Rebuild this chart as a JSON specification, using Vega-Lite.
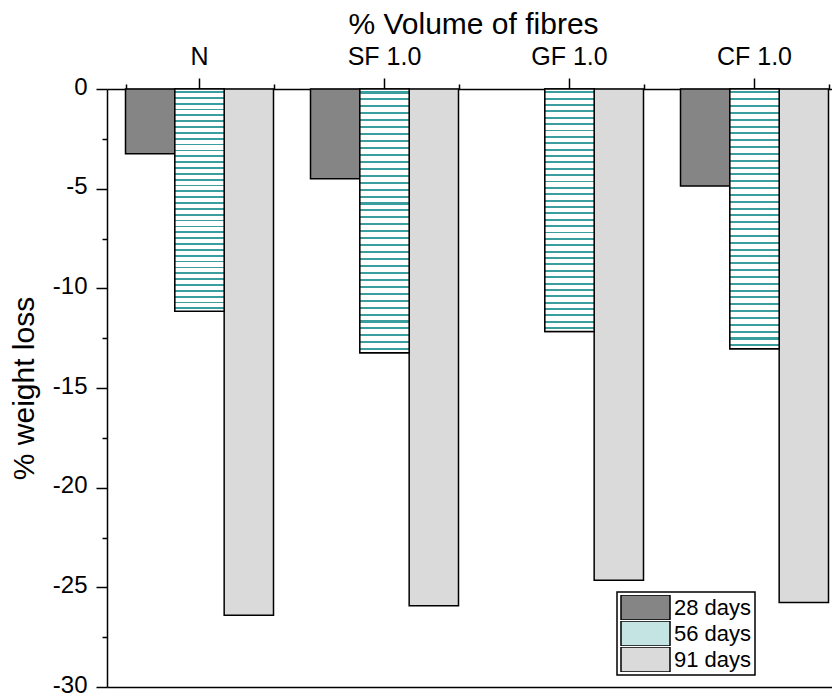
{
  "$schema": "https://vega.github.io/schema/vega-lite/v6.json",
  "width": 725,
  "height": 598,
  "autosize": {"type": "none"},
  "padding": {"left": 107, "top": 89, "right": 0, "bottom": 10},
  "background": "white",
  "config": {
    "view": {"stroke": null},
    "font": "Liberation Sans",
    "axis": {"domainColor": "black", "tickColor": "black", "labelColor": "black", "titleColor": "black", "domainWidth": 1.5, "tickWidth": 1.5, "grid": false, "labelFlush": false},
    "legend": {"strokeWidth": 1.5}
  },
  "data": {
    "values": [
      {"mix": "N", "age": "28 days", "loss": -3.25},
      {"mix": "N", "age": "56 days", "loss": -11.15},
      {"mix": "N", "age": "91 days", "loss": -26.4},
      {"mix": "SF 1.0", "age": "28 days", "loss": -4.5},
      {"mix": "SF 1.0", "age": "56 days", "loss": -13.23},
      {"mix": "SF 1.0", "age": "91 days", "loss": -25.93},
      {"mix": "GF 1.0", "age": "56 days", "loss": -12.16},
      {"mix": "GF 1.0", "age": "91 days", "loss": -24.64},
      {"mix": "CF 1.0", "age": "28 days", "loss": -4.87},
      {"mix": "CF 1.0", "age": "56 days", "loss": -13.03},
      {"mix": "CF 1.0", "age": "91 days", "loss": -25.76}
    ]
  },
  "layer": [
    {
      "mark": {"type": "bar", "stroke": "black", "strokeWidth": 1.5},
      "encoding": {
        "x": {
          "field": "mix", "type": "nominal", "sort": ["N", "SF 1.0", "GF 1.0", "CF 1.0"],
          "scale": {"range": [0, 740], "paddingInner": 0.2, "paddingOuter": 0.1},
          "axis": {
            "orient": "top", "title": "% Volume of fibres", "titleFontSize": 30, "titleFontWeight": "normal",
            "titleX": 366, "titleY": -56, "titleBaseline": "alphabetic", "titleAlign": "center",
            "labelAngle": 0, "labelFontSize": 25, "labelBaseline": "alphabetic", "labelPadding": 14,
            "tickSize": 11, "tickBand": "center"
          }
        },
        "xOffset": {"field": "age", "type": "nominal", "scale": {"domain": ["28 days", "56 days", "91 days"], "paddingInner": 0, "paddingOuter": 0}},
        "y": {
          "field": "loss", "type": "quantitative",
          "scale": {"domain": [-30, 0], "nice": false, "zero": false},
          "axis": {
            "title": "% weight loss", "titleFontSize": 30, "titleFontWeight": "normal", "titleAngle": -90,
            "titleX": -74, "titleY": 299, "titleBaseline": "alphabetic", "titleAlign": "center",
            "values": [-30, -25, -20, -15, -10, -5, 0], "labelExpr": "'' + datum.value",
            "labelFontSize": 24, "labelPadding": 9, "labelOffset": -2, "tickSize": 11
          }
        },
        "fill": {
          "field": "age", "type": "nominal",
          "scale": {"domain": ["28 days", "56 days", "91 days"], "range": ["#858585", "#c4e3e3", "#dadada"]},
          "legend": {
            "orient": "none", "legendX": 510, "legendY": 503, "title": null,
            "symbolType": "M-1,-1H2.92V1H-1Z", "symbolSize": 625, "symbolStrokeColor": "black", "symbolStrokeWidth": 1.5,
            "symbolOpacity": 1, "labelFontSize": 22, "labelColor": "black", "labelOffset": 27, "rowPadding": 1,
            "clipHeight": 25, "padding": 3, "strokeColor": "black", "fillColor": "white"
          }
        }
      }
    },
    {
      "transform": [{"filter": "datum.age === '56 days'"}],
      "mark": {
        "type": "bar", "stroke": "black", "strokeWidth": 1.5,
        "fill": {
          "gradient": "linear", "x1": 0, "y1": 0, "x2": 0, "y2": 1,
          "stops": [
            {"offset": 0, "color": "white"},
            {"offset": 0.00921, "color": "white"}, {"offset": 0.00921, "color": "#3a9e9e"}, {"offset": 0.01711, "color": "#3a9e9e"}, {"offset": 0.01711, "color": "white"},
            {"offset": 0.03553, "color": "white"}, {"offset": 0.03553, "color": "#3a9e9e"}, {"offset": 0.04342, "color": "#3a9e9e"}, {"offset": 0.04342, "color": "white"},
            {"offset": 0.06184, "color": "white"}, {"offset": 0.06184, "color": "#3a9e9e"}, {"offset": 0.06974, "color": "#3a9e9e"}, {"offset": 0.06974, "color": "white"},
            {"offset": 0.08816, "color": "white"}, {"offset": 0.08816, "color": "#3a9e9e"}, {"offset": 0.09605, "color": "#3a9e9e"}, {"offset": 0.09605, "color": "white"},
            {"offset": 0.11447, "color": "white"}, {"offset": 0.11447, "color": "#3a9e9e"}, {"offset": 0.12237, "color": "#3a9e9e"}, {"offset": 0.12237, "color": "white"},
            {"offset": 0.14079, "color": "white"}, {"offset": 0.14079, "color": "#3a9e9e"}, {"offset": 0.14868, "color": "#3a9e9e"}, {"offset": 0.14868, "color": "white"},
            {"offset": 0.16711, "color": "white"}, {"offset": 0.16711, "color": "#3a9e9e"}, {"offset": 0.175, "color": "#3a9e9e"}, {"offset": 0.175, "color": "white"},
            {"offset": 0.19342, "color": "white"}, {"offset": 0.19342, "color": "#3a9e9e"}, {"offset": 0.20132, "color": "#3a9e9e"}, {"offset": 0.20132, "color": "white"},
            {"offset": 0.21974, "color": "white"}, {"offset": 0.21974, "color": "#3a9e9e"}, {"offset": 0.22763, "color": "#3a9e9e"}, {"offset": 0.22763, "color": "white"},
            {"offset": 0.24605, "color": "white"}, {"offset": 0.24605, "color": "#3a9e9e"}, {"offset": 0.25395, "color": "#3a9e9e"}, {"offset": 0.25395, "color": "white"},
            {"offset": 0.27237, "color": "white"}, {"offset": 0.27237, "color": "#3a9e9e"}, {"offset": 0.28026, "color": "#3a9e9e"}, {"offset": 0.28026, "color": "white"},
            {"offset": 0.29868, "color": "white"}, {"offset": 0.29868, "color": "#3a9e9e"}, {"offset": 0.30658, "color": "#3a9e9e"}, {"offset": 0.30658, "color": "white"},
            {"offset": 0.325, "color": "white"}, {"offset": 0.325, "color": "#3a9e9e"}, {"offset": 0.33289, "color": "#3a9e9e"}, {"offset": 0.33289, "color": "white"},
            {"offset": 0.35132, "color": "white"}, {"offset": 0.35132, "color": "#3a9e9e"}, {"offset": 0.35921, "color": "#3a9e9e"}, {"offset": 0.35921, "color": "white"},
            {"offset": 0.37763, "color": "white"}, {"offset": 0.37763, "color": "#3a9e9e"}, {"offset": 0.38553, "color": "#3a9e9e"}, {"offset": 0.38553, "color": "white"},
            {"offset": 0.40395, "color": "white"}, {"offset": 0.40395, "color": "#3a9e9e"}, {"offset": 0.41184, "color": "#3a9e9e"}, {"offset": 0.41184, "color": "white"},
            {"offset": 0.43026, "color": "white"}, {"offset": 0.43026, "color": "#3a9e9e"}, {"offset": 0.43816, "color": "#3a9e9e"}, {"offset": 0.43816, "color": "white"},
            {"offset": 0.45658, "color": "white"}, {"offset": 0.45658, "color": "#3a9e9e"}, {"offset": 0.46447, "color": "#3a9e9e"}, {"offset": 0.46447, "color": "white"},
            {"offset": 0.48289, "color": "white"}, {"offset": 0.48289, "color": "#3a9e9e"}, {"offset": 0.49079, "color": "#3a9e9e"}, {"offset": 0.49079, "color": "white"},
            {"offset": 0.50921, "color": "white"}, {"offset": 0.50921, "color": "#3a9e9e"}, {"offset": 0.51711, "color": "#3a9e9e"}, {"offset": 0.51711, "color": "white"},
            {"offset": 0.53553, "color": "white"}, {"offset": 0.53553, "color": "#3a9e9e"}, {"offset": 0.54342, "color": "#3a9e9e"}, {"offset": 0.54342, "color": "white"},
            {"offset": 0.56184, "color": "white"}, {"offset": 0.56184, "color": "#3a9e9e"}, {"offset": 0.56974, "color": "#3a9e9e"}, {"offset": 0.56974, "color": "white"},
            {"offset": 0.58816, "color": "white"}, {"offset": 0.58816, "color": "#3a9e9e"}, {"offset": 0.59605, "color": "#3a9e9e"}, {"offset": 0.59605, "color": "white"},
            {"offset": 0.61447, "color": "white"}, {"offset": 0.61447, "color": "#3a9e9e"}, {"offset": 0.62237, "color": "#3a9e9e"}, {"offset": 0.62237, "color": "white"},
            {"offset": 0.64079, "color": "white"}, {"offset": 0.64079, "color": "#3a9e9e"}, {"offset": 0.64868, "color": "#3a9e9e"}, {"offset": 0.64868, "color": "white"},
            {"offset": 0.66711, "color": "white"}, {"offset": 0.66711, "color": "#3a9e9e"}, {"offset": 0.675, "color": "#3a9e9e"}, {"offset": 0.675, "color": "white"},
            {"offset": 0.69342, "color": "white"}, {"offset": 0.69342, "color": "#3a9e9e"}, {"offset": 0.70132, "color": "#3a9e9e"}, {"offset": 0.70132, "color": "white"},
            {"offset": 0.71974, "color": "white"}, {"offset": 0.71974, "color": "#3a9e9e"}, {"offset": 0.72763, "color": "#3a9e9e"}, {"offset": 0.72763, "color": "white"},
            {"offset": 0.74605, "color": "white"}, {"offset": 0.74605, "color": "#3a9e9e"}, {"offset": 0.75395, "color": "#3a9e9e"}, {"offset": 0.75395, "color": "white"},
            {"offset": 0.77237, "color": "white"}, {"offset": 0.77237, "color": "#3a9e9e"}, {"offset": 0.78026, "color": "#3a9e9e"}, {"offset": 0.78026, "color": "white"},
            {"offset": 0.79868, "color": "white"}, {"offset": 0.79868, "color": "#3a9e9e"}, {"offset": 0.80658, "color": "#3a9e9e"}, {"offset": 0.80658, "color": "white"},
            {"offset": 0.825, "color": "white"}, {"offset": 0.825, "color": "#3a9e9e"}, {"offset": 0.83289, "color": "#3a9e9e"}, {"offset": 0.83289, "color": "white"},
            {"offset": 0.85132, "color": "white"}, {"offset": 0.85132, "color": "#3a9e9e"}, {"offset": 0.85921, "color": "#3a9e9e"}, {"offset": 0.85921, "color": "white"},
            {"offset": 0.87763, "color": "white"}, {"offset": 0.87763, "color": "#3a9e9e"}, {"offset": 0.88553, "color": "#3a9e9e"}, {"offset": 0.88553, "color": "white"},
            {"offset": 0.90395, "color": "white"}, {"offset": 0.90395, "color": "#3a9e9e"}, {"offset": 0.91184, "color": "#3a9e9e"}, {"offset": 0.91184, "color": "white"},
            {"offset": 0.93026, "color": "white"}, {"offset": 0.93026, "color": "#3a9e9e"}, {"offset": 0.93816, "color": "#3a9e9e"}, {"offset": 0.93816, "color": "white"},
            {"offset": 0.95658, "color": "white"}, {"offset": 0.95658, "color": "#3a9e9e"}, {"offset": 0.96447, "color": "#3a9e9e"}, {"offset": 0.96447, "color": "white"},
            {"offset": 0.98289, "color": "white"}, {"offset": 0.98289, "color": "#3a9e9e"}, {"offset": 0.99079, "color": "#3a9e9e"}, {"offset": 0.99079, "color": "white"},
            {"offset": 1, "color": "white"}
          ]
        }
      },
      "encoding": {
        "x": {"field": "mix", "type": "nominal", "sort": ["N", "SF 1.0", "GF 1.0", "CF 1.0"], "axis": null},
        "xOffset": {"field": "age", "type": "nominal"},
        "y": {"field": "loss", "type": "quantitative", "axis": null}
      }
    },
    {
      "mark": {"type": "bar", "opacity": 0},
      "encoding": {
        "x": {
          "field": "mix", "type": "nominal", "sort": ["N", "SF 1.0", "GF 1.0", "CF 1.0"],
          "axis": {"orient": "top", "title": null, "labels": false, "domain": false, "tickBand": "extent", "tickSize": 5}
        },
        "y": {
          "field": "loss", "type": "quantitative",
          "axis": {"orient": "left", "title": null, "labels": false, "domain": false, "tickSize": 5,
                   "values": [-27.5, -22.5, -17.5, -12.5, -7.5, -2.5]}
        }
      }
    },
    {
      "mark": {"type": "bar", "opacity": 0},
      "encoding": {
        "x": {
          "field": "mix", "type": "nominal", "sort": ["N", "SF 1.0", "GF 1.0", "CF 1.0"],
          "axis": {"orient": "bottom", "title": null, "labels": false, "ticks": false, "domain": true}
        },
        "y": {"field": "loss", "type": "quantitative", "axis": null}
      }
    }
  ],
  "resolve": {"axis": {"x": "independent", "y": "independent"}}
}
